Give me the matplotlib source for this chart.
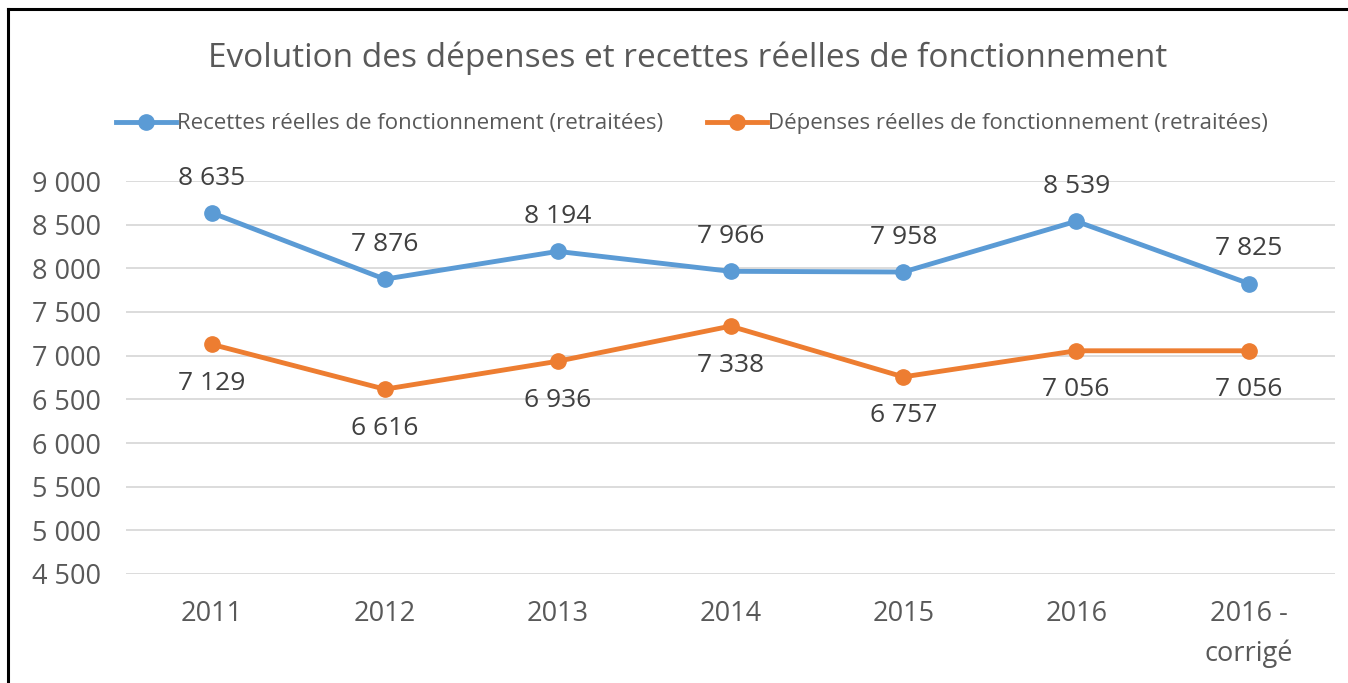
import matplotlib
matplotlib.use("Agg")
import matplotlib.pyplot as plt
from matplotlib.lines import Line2D

categories = ["2011", "2012", "2013", "2014", "2015", "2016", "2016 -\ncorrigé"]
recettes = [8635, 7876, 8194, 7966, 7958, 8539, 7825]
depenses = [7129, 6616, 6936, 7338, 6757, 7056, 7056]
yticks = [4500, 5000, 5500, 6000, 6500, 7000, 7500, 8000, 8500, 9000]
series_names = ["Recettes réelles de fonctionnement (retraitées)",
                "Dépenses réelles de fonctionnement (retraitées)"]
title = "Evolution des dépenses et recettes réelles de fonctionnement"

BLUE = "#5B9BD5"
ORANGE = "#ED7D31"
TXT = "#595959"
FONT = ["Open Sans", "DejaVu Sans"]
plt.rcParams["font.family"] = FONT

fig = plt.figure(figsize=(13.48, 6.83), dpi=100)
W, H = 1348, 683
ax = fig.add_axes([125.6 / W, 1 - 574 / H, (1335.4 - 125.6) / W, (574 - 181) / H])

x = list(range(len(categories)))
ax.plot(x, recettes, color=BLUE, lw=3.5, marker="o", ms=11, solid_capstyle="round", zorder=3)
ax.plot(x, depenses, color=ORANGE, lw=3.5, marker="o", ms=11, solid_capstyle="round", zorder=3)

def fmt(v):
    return f"{v:,}".replace(",", " ")

for xi, v in zip(x, recettes):
    ax.annotate(fmt(v), (xi, v), xytext=(0, 25), textcoords="offset points",
                ha="center", va="center", fontsize=19, color="#404040")
for xi, v in zip(x, depenses):
    ax.annotate(fmt(v), (xi, v), xytext=(0, -28), textcoords="offset points",
                ha="center", va="center", fontsize=19, color="#404040")

ax.set_xlim(-0.5, len(categories) - 0.5)
ax.set_ylim(4500, 9000)
ax.set_yticks(yticks)
ax.set_yticklabels([fmt(v) for v in yticks])
ax.set_xticks(x)
ax.set_xticklabels(categories, linespacing=1.5)
ax.grid(axis="y", color="#D9D9D9", lw=1.3)
ax.set_axisbelow(True)
for s in ax.spines.values():
    s.set_visible(False)
ax.tick_params(axis="both", length=0, labelsize=19.5, colors=TXT)
ax.tick_params(axis="y", pad=18)
ax.tick_params(axis="x", pad=19)
for lbl in ax.get_xticklabels():
    lbl.set_verticalalignment("top")

fig.text(688 / W, 1 - 58 / H, title, ha="center", va="center", fontsize=24, color=TXT)

handles = [Line2D([], [], color=BLUE, lw=3.5, marker="o", ms=11),
           Line2D([], [], color=ORANGE, lw=3.5, marker="o", ms=11)]
fig.legend(handles, series_names, loc="center", bbox_to_anchor=(692 / W, 1 - 124 / H),
           ncol=2, frameon=False, fontsize=16, labelcolor=TXT,
           handlelength=2.7, handletextpad=0.05, columnspacing=2.0)

# frame border (top and left visible)
fig.add_artist(Line2D([8 / W, 8 / W], [0, 1 - 9 / H], color="black", lw=2.2,
                      transform=fig.transFigure))
fig.add_artist(Line2D([8 / W, 1], [1 - 9 / H, 1 - 9 / H], color="black", lw=2.2,
                      transform=fig.transFigure))

fig.savefig("out.png", dpi=100, facecolor="white")
